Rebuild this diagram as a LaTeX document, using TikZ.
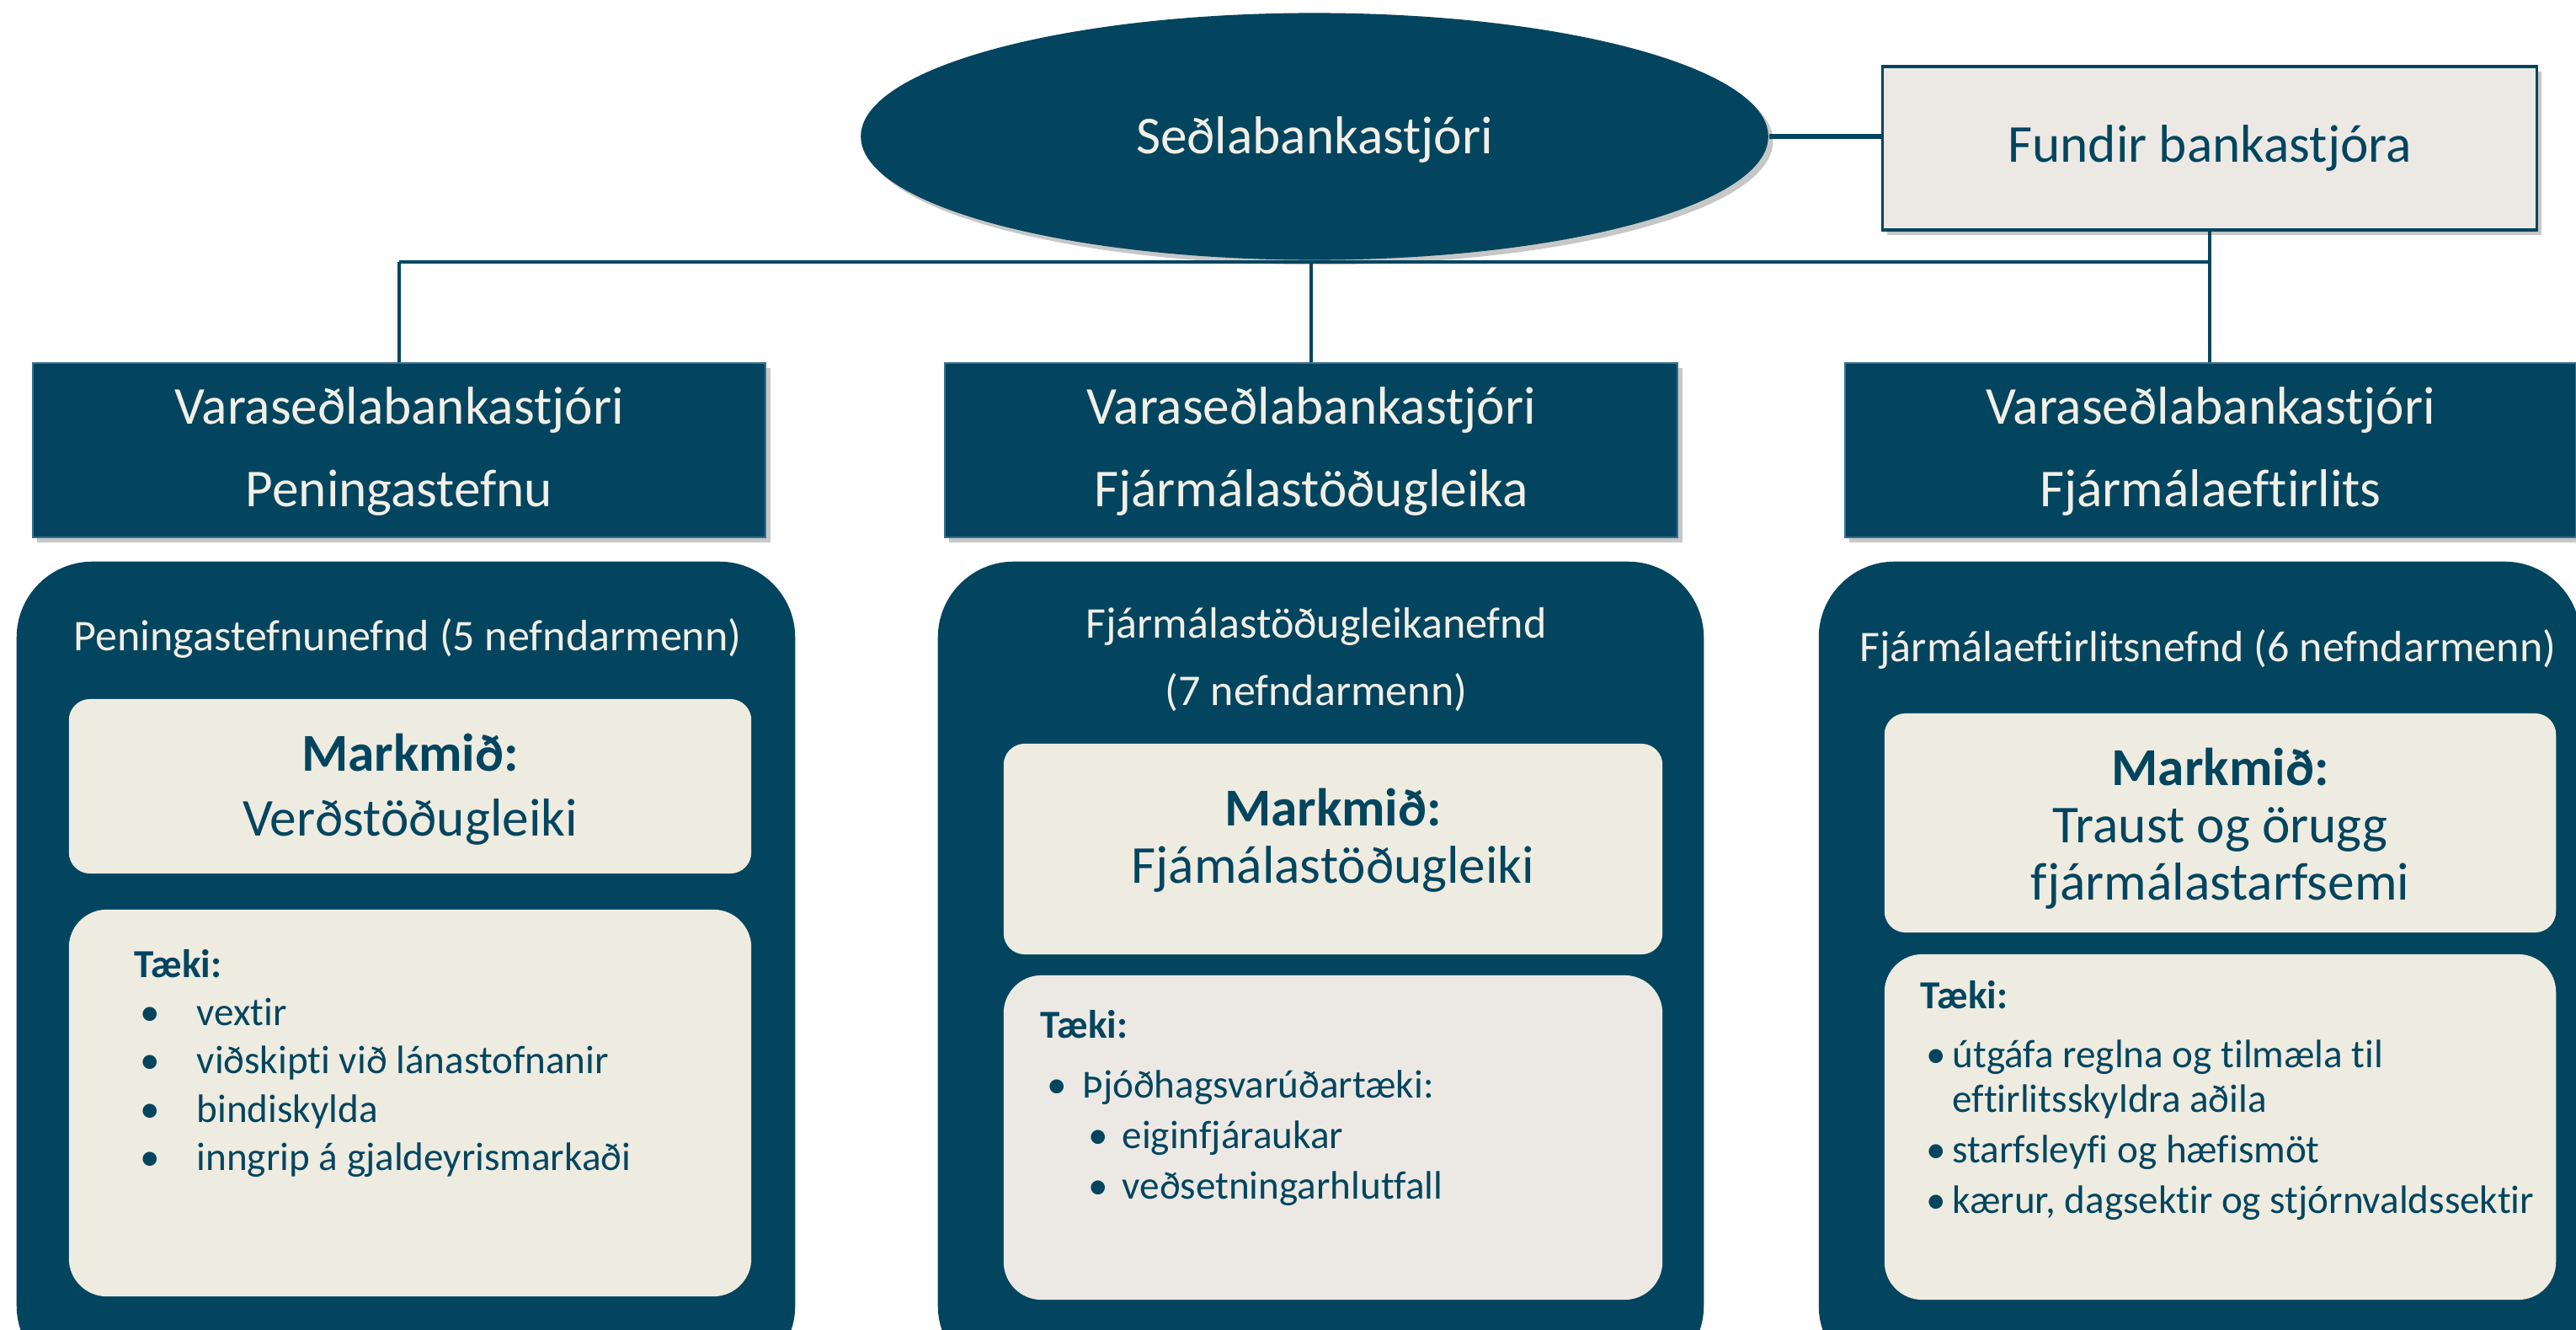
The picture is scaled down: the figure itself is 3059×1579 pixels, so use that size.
\documentclass[tikz,border=0pt]{standalone}
\usepackage{fontspec}
\setmainfont[Ligatures=NoCommon]{Carlito}
\usetikzlibrary{shadows,shapes.geometric}
\definecolor{dk}{HTML}{03455F}
\definecolor{bd}{HTML}{3C6F93}
\definecolor{cr}{HTML}{EEEBE0}
\definecolor{cg}{HTML}{ECE9E4}
\definecolor{lt}{HTML}{F2EFE7}
\tikzset{
  shad/.style={drop shadow={shadow xshift=1.6pt,shadow yshift=-1.6pt,opacity=0.22,fill=black}},
  ellbox/.style={ellipse,inner sep=0pt,fill=dk,shad},
  fundbox/.style={rectangle,inner sep=0pt,fill=cg,draw=dk,line width=0.9pt,shad},
  vbox/.style={rectangle,inner sep=0pt,fill=dk,draw=bd,line width=0.6pt,shad},
  bigbox/.style={rectangle,inner sep=0pt,fill=dk,rounded corners=0.9cm},
  goalbox/.style={rectangle,inner sep=0pt,fill=cr,rounded corners=0.25cm},
  toolbox/.style={rectangle,inner sep=0pt,rounded corners=0.45cm},
  tbig/.style={inner sep=0pt,anchor=base,font=\fontsize{18}{22}\selectfont},
  tmid/.style={inner sep=0pt,anchor=base,font=\fontsize{14.8}{18}\selectfont,text=lt},
  tsm/.style={inner sep=0pt,anchor=base west,font=\fontsize{13.4}{16}\selectfont,text=dk},
  thick1/.style={draw=dk,line width=1.8pt},
  thick2/.style={draw=dk,line width=1.4pt},
  thin1/.style={draw=dk,line width=1pt},
}
\begin{document}
\begin{tikzpicture}[x=0.01cm,y=-0.01cm]
\clip (0,0) rectangle (3059,1579);
\fill[white] (0,0) rectangle (3059,1579);

% top level
\node[ellbox,minimum width=10.77cm,minimum height=2.93cm] (ell) at (1561,162) {};
\node[fundbox,minimum width=7.77cm,minimum height=1.94cm] (fund) at (2624,176) {};
\node[tbig,text=lt] (tell) at (1561,183) {Seðlabankastjóri};
\node[tbig,text=dk] (tfund) at (2624,193) {Fundir bankastjóra};

% deputy boxes
\node[vbox,minimum width=8.70cm,minimum height=2.07cm] (v1) at (474,534.5) {};
\node[vbox,minimum width=8.70cm,minimum height=2.07cm] (v2) at (1557,534.5) {};
\node[vbox,minimum width=8.68cm,minimum height=2.07cm] (v3) at (2625,534.5) {};
\node[tbig,text=lt] (v1a) at (474,504) {Varaseðlabankastjóri};
\node[tbig,text=lt] (v1b) at (474,601) {Peningastefnu};
\node[tbig,text=lt] (v2a) at (1557,504) {Varaseðlabankastjóri};
\node[tbig,text=lt] (v2b) at (1557,601) {Fjármálastöðugleika};
\node[tbig,text=lt] (v3a) at (2625,504) {Varaseðlabankastjóri};
\node[tbig,text=lt] (v3b) at (2625,601) {Fjármálaeftirlits};

% connectors
\coordinate (busL) at (474,311);
\coordinate (busR) at (2625,311);
\draw[thick1] (ell.east) -- (ell.east -| fund.west);
\draw[thick2] (busL) -- (busR);
\draw[thin1] (busL) -- (v1.north);
\draw[thin1] (v2.north |- ell.south) -- (v2.north);
\draw[thin1] (fund.south) -- (fund.south |- v3.north);

% committee boxes
\node[bigbox,minimum width=9.24cm,minimum height=9.73cm] (P) at (482,1153.5) {};
\node[bigbox,minimum width=9.09cm,minimum height=9.73cm] (M) at (1568.5,1153.5) {};
\node[bigbox,minimum width=9.04cm,minimum height=9.73cm] (R) at (2612,1153.5) {};

\node[tmid] (Pt) at (484,772) {Peningastefnunefnd (5 nefndarmenn)};
\node[tmid] (Mt1) at (1563,757) {Fjármálastöðugleikanefnd};
\node[tmid] (Mt2) at (1563,837) {(7 nefndarmenn)};
\node[tmid] (Rt) at (2622,785) {Fjármálaeftirlitsnefnd (6 nefndarmenn)};

% goal boxes
\node[goalbox,minimum width=8.10cm,minimum height=2.07cm] (PG) at (487,933.5) {};
\node[goalbox,minimum width=7.82cm,minimum height=2.50cm] (MG) at (1583,1008) {};
\node[goalbox,minimum width=7.97cm,minimum height=2.60cm] (RG) at (2636.5,977) {};

\node[tbig,text=dk,font=\fontsize{18}{22}\selectfont\bfseries] (PG1) at (487,915) {Markmið:};
\node[tbig,text=dk] (PG2) at (487,992) {Verðstöðugleiki};
\node[tbig,text=dk,font=\fontsize{18}{22}\selectfont\bfseries] (MG1) at (1583,980) {Markmið:};
\node[tbig,text=dk] (MG2) at (1583,1048) {Fjámálastöðugleiki};
\node[tbig,text=dk,font=\fontsize{18}{22}\selectfont\bfseries] (RG1) at (2636.5,932) {Markmið:};
\node[tbig,text=dk] (RG2) at (2636.5,1000) {Traust og örugg};
\node[tbig,text=dk] (RG3) at (2636.5,1068) {fjármálastarfsemi};

% tool boxes
\node[toolbox,fill=cr,minimum width=8.10cm,minimum height=4.59cm] (PT) at (487,1309.5) {};
\node[toolbox,fill=cg,minimum width=7.82cm,minimum height=3.85cm] (MT) at (1583,1350.5) {};
\node[toolbox,fill=cr,minimum width=7.97cm,minimum height=4.10cm] (RT) at (2636.5,1338) {};

% left tools
\node[tsm,font=\fontsize{13.4}{16}\selectfont\bfseries] (PT0) at (159,1160) {Tæki:};
\node[tsm] (PTb1) at (166,1217) {•};
\node[tsm] (PT1) at (233,1217) {vextir};
\node[tsm] (PTb2) at (166,1274) {•};
\node[tsm] (PT2) at (233,1274) {viðskipti við lánastofnanir};
\node[tsm] (PTb3) at (166,1332) {•};
\node[tsm] (PT3) at (233,1332) {bindiskylda};
\node[tsm] (PTb4) at (166,1389) {•};
\node[tsm] (PT4) at (233,1389) {inngrip á gjaldeyrismarkaði};

% middle tools
\node[tsm,font=\fontsize{13.4}{16}\selectfont\bfseries] (MT0) at (1235,1232) {Tæki:};
\node[tsm] (MTb1) at (1243,1303) {•};
\node[tsm] (MT1) at (1285,1303) {Þjóðhagsvarúðartæki:};
\node[tsm] (MTb2) at (1292,1363) {•};
\node[tsm] (MT2) at (1332,1363) {eiginfjáraukar};
\node[tsm] (MTb3) at (1292,1423) {•};
\node[tsm] (MT3) at (1332,1423) {veðsetningarhlutfall};

% right tools
\node[tsm,font=\fontsize{13.4}{16}\selectfont\bfseries] (RT0) at (2280,1197) {Tæki:};
\node[tsm] (RTb1) at (2287,1267) {•};
\node[tsm] (RT1) at (2318,1267) {útgáfa reglna og tilmæla til};
\node[tsm] (RT1b) at (2318,1320) {eftirlitsskyldra aðila};
\node[tsm] (RTb2) at (2287,1380) {•};
\node[tsm] (RT2) at (2318,1380) {starfsleyfi og hæfismöt};
\node[tsm] (RTb3) at (2287,1440) {•};
\node[tsm] (RT3) at (2318,1440) {kærur, dagsektir og stjórnvaldssektir};
\end{tikzpicture}
\end{document}
